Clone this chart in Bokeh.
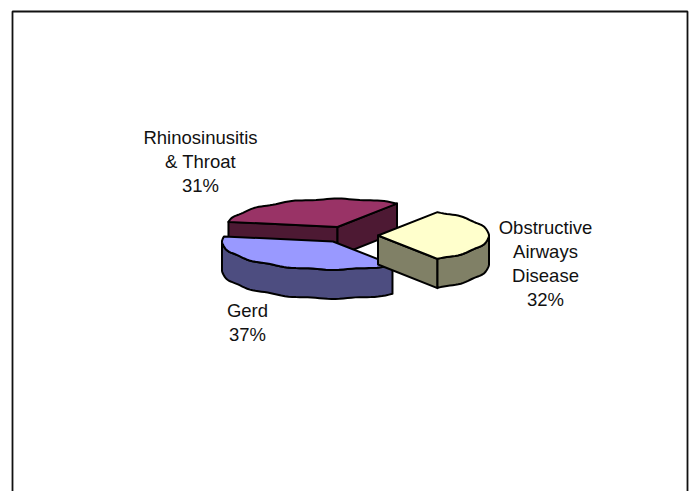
import numpy as np
from bokeh.plotting import figure
from bokeh.models import Range1d
from bokeh.core.properties import value
from bokeh.embed import file_html
from bokeh.resources import INLINE

names = ["Obstructive\nAirways\nDisease", "Rhinosinusitis\n& Throat", "Gerd"]
shares = [32, 31, 37]
top_colors = ["#FFFFCC", "#993366", "#9999FF"]
side_colors = ["#808066", "#4D1933", "#4D4D80"]

W, H = 692, 491
p = figure(width=W, height=H, output_backend="svg", toolbar_location=None,
           x_range=Range1d(0, W), y_range=Range1d(H, 0),
           min_border=0, outline_line_color=None, background_fill_color="white")
p.axis.visible = False
p.grid.visible = False

# frame, open at the bottom
p.line([12, 12, 687, 687], [491, 11, 11, 491], line_color="#111111", line_width=1.8)

RX, RY, DEPTH = 111, 28, 29
centers = {0: (377.5, 235), 1: (337, 226.5), 2: (332.5, 241)}

def pt(c, deg, rough=0.0):
    a = np.radians(deg)
    # the outline of the source is a coarse, slightly scalloped polygon
    return c[0] + RX * np.cos(a), c[1] - RY * np.sin(a) + rough * np.sin(np.radians(deg) * 15)

def arc(c, a0, a1, n=60):
    d = np.linspace(a0, a1, n)
    return [pt(c, x, 0.55) for x in d]

def prism(pts):
    return [x for x, _ in pts] + [x for x, _ in pts[::-1]], [y for _, y in pts] + [y + DEPTH for _, y in pts[::-1]]

start = -shares[0] * 3.6 / 2
angles = []
a = start
for s in shares:
    angles.append((a, a + s * 3.6))
    a += s * 3.6

def draw(xy, color):
    p.patch(list(xy[0]), list(xy[1]), fill_color=color, line_color="black", line_width=2, line_join="round")

def top(i):
    c = centers[i]
    a0, a1 = angles[i]
    pts = [c] + arc(c, a0, a1) + [c]
    draw(([q[0] for q in pts], [q[1] for q in pts]), top_colors[i])

c = centers[1]; a0, a1 = angles[1]
draw(prism([pt(c, a1), c]), side_colors[1])
draw(prism([c, pt(c, a0)]), side_colors[1])
top(1)
c = centers[2]; a0, a1 = angles[2]
draw(prism(arc(c, 180, a1)), side_colors[2])
top(2)
c = centers[0]; a0, a1 = angles[0]
draw(prism([c, pt(c, a0)]), side_colors[0])
draw(prism(arc(c, a0, 0, 30)), side_colors[0])
top(0)

label_pos = [(545, 227), (200, 137), (247, 310)]
for nm, s, (x, y) in zip(names, shares, label_pos):
    for k, line in enumerate(nm.split("\n") + [f"{s}%"]):
        p.text([x], [y + k * 24], text=[line], text_align="center", text_baseline="middle",
               text_font=value("Liberation Sans"), text_font_size="18.5px", text_color="#111111")

open("out.html", "w").write(file_html(p, INLINE))
